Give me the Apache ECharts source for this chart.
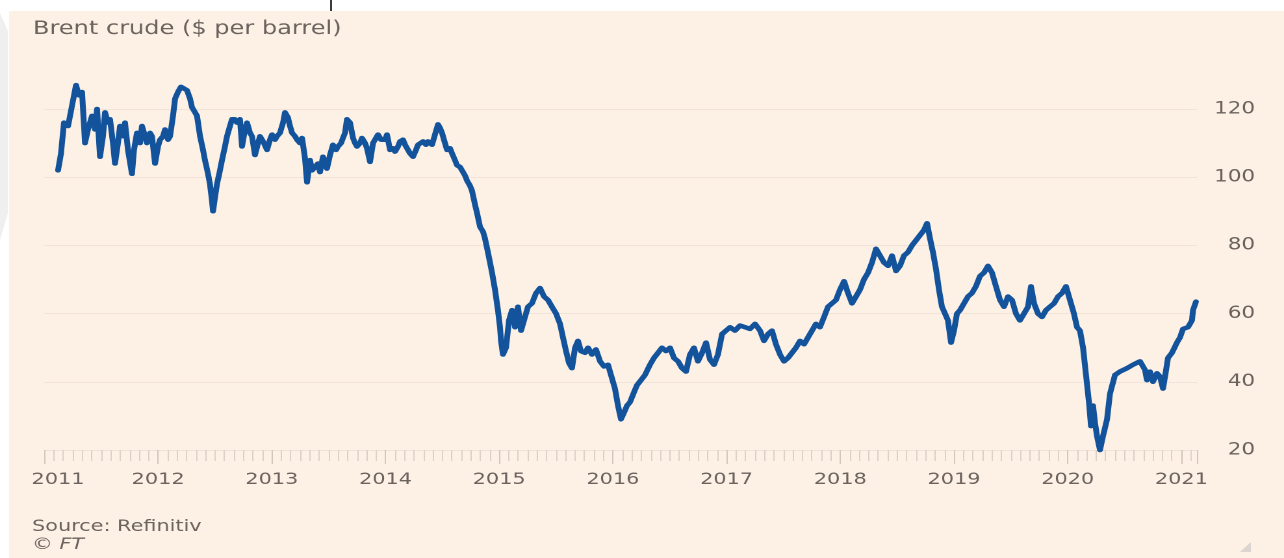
<!DOCTYPE html>
<html>
<head>
<meta charset="utf-8">
<title>Brent crude</title>
<script src="https://cdn.jsdelivr.net/npm/echarts@6/dist/echarts.min.js"></script>
<style>
  html, body { margin: 0; padding: 0; width: 1284px; height: 558px; overflow: hidden; background: #ffffff; }
  #panel { position: absolute; left: 9px; top: 11px; right: 0; bottom: 0; background: #fdf0e5; }
  #edge { position: absolute; left: 0; top: 13px; width: 8px; height: 227px; background: #efefef;
          clip-path: polygon(0 0, 100% 8%, 100% 88%, 0 100%); }
  #mark { position: absolute; left: 330px; top: 0; width: 2px; height: 11px; background: #3c3c3c; }
  #logo { position: absolute; left: 1240px; top: 542px; width: 11px; height: 10px; background: #dcd5cf;
          clip-path: polygon(100% 0, 100% 100%, 0 100%); }
  /* the chart is laid out on a narrower canvas and widened to the page */
  #chart { position: absolute; left: 0; top: 0; width: 988px; height: 558px;
           transform: scaleX(1.29960); transform-origin: 0 0; }
</style>
</head>
<body>
<div id="panel"></div>
<div id="edge"></div>
<div id="mark"></div>
<div id="logo"></div>
<div id="chart"></div>
<script>
// Week positions as decimal years
const weekYear = [
  2011.120, 2011.146, 2011.172, 2011.208, 2011.243, 2011.278, 2011.304, 2011.331, 2011.357, 2011.383,
  2011.419, 2011.445, 2011.463, 2011.489, 2011.515, 2011.533, 2011.559, 2011.577, 2011.603, 2011.621,
  2011.647, 2011.665, 2011.691, 2011.709, 2011.735, 2011.770, 2011.788, 2011.814, 2011.841, 2011.858,
  2011.885, 2011.902, 2011.929, 2011.946, 2011.973, 2011.999, 2012.017, 2012.043, 2012.061, 2012.087,
  2012.105, 2012.131, 2012.149, 2012.175, 2012.201, 2012.228, 2012.254, 2012.281, 2012.298, 2012.325,
  2012.342, 2012.369, 2012.395, 2012.412, 2012.439, 2012.456, 2012.474, 2012.483, 2012.500, 2012.518,
  2012.544, 2012.562, 2012.588, 2012.606, 2012.632, 2012.650, 2012.676, 2012.694, 2012.720, 2012.738,
  2012.764, 2012.782, 2012.808, 2012.826, 2012.852, 2012.879, 2012.896, 2012.931, 2012.958, 2012.984,
  2013.002, 2013.028, 2013.046, 2013.072, 2013.099, 2013.116, 2013.142, 2013.160, 2013.178, 2013.204,
  2013.222, 2013.248, 2013.266, 2013.292, 2013.310, 2013.336, 2013.354, 2013.380, 2013.406, 2013.424,
  2013.450, 2013.485, 2013.512, 2013.538, 2013.565, 2013.582, 2013.609, 2013.626, 2013.644, 2013.661,
  2013.688, 2013.714, 2013.732, 2013.749, 2013.776, 2013.793, 2013.820, 2013.837, 2013.864, 2013.890,
  2013.908, 2013.934, 2013.960, 2013.978, 2013.996, 2014.013, 2014.040, 2014.066, 2014.084, 2014.110,
  2014.128, 2014.154, 2014.172, 2014.198, 2014.215, 2014.242, 2014.268, 2014.286, 2014.303, 2014.330,
  2014.356, 2014.374, 2014.409, 2014.435, 2014.462, 2014.479, 2014.497, 2014.523, 2014.541, 2014.567,
  2014.585, 2014.611, 2014.629, 2014.655, 2014.673, 2014.699, 2014.717, 2014.743, 2014.761, 2014.787,
  2014.805, 2014.831, 2014.858, 2014.875, 2014.901, 2014.919, 2014.937, 2014.963, 2014.989, 2015.007,
  2015.016, 2015.033, 2015.060, 2015.086, 2015.113, 2015.139, 2015.165, 2015.192, 2015.218, 2015.253,
  2015.288, 2015.324, 2015.359, 2015.394, 2015.429, 2015.464, 2015.500, 2015.535, 2015.561, 2015.588,
  2015.614, 2015.640, 2015.667, 2015.693, 2015.719, 2015.755, 2015.781, 2015.816, 2015.851, 2015.887,
  2015.922, 2015.957, 2015.992, 2016.018, 2016.045, 2016.071, 2016.098, 2016.124, 2016.150, 2016.186,
  2016.212, 2016.247, 2016.282, 2016.326, 2016.361, 2016.397, 2016.432, 2016.467, 2016.502, 2016.537,
  2016.573, 2016.608, 2016.643, 2016.678, 2016.713, 2016.748, 2016.784, 2016.819, 2016.854, 2016.889,
  2016.924, 2016.960, 2016.995, 2017.030, 2017.074, 2017.118, 2017.162, 2017.206, 2017.250, 2017.294,
  2017.329, 2017.364, 2017.399, 2017.434, 2017.470, 2017.505, 2017.540, 2017.575, 2017.610, 2017.646,
  2017.681, 2017.716, 2017.751, 2017.786, 2017.821, 2017.857, 2017.892, 2017.927, 2017.962, 2017.997,
  2018.033, 2018.068, 2018.103, 2018.138, 2018.173, 2018.208, 2018.244, 2018.279, 2018.314, 2018.349,
  2018.384, 2018.420, 2018.455, 2018.490, 2018.525, 2018.560, 2018.595, 2018.631, 2018.666, 2018.701,
  2018.736, 2018.763, 2018.789, 2018.815, 2018.842, 2018.868, 2018.894, 2018.921, 2018.947, 2018.974,
  2019.000, 2019.026, 2019.053, 2019.088, 2019.123, 2019.158, 2019.193, 2019.229, 2019.264, 2019.299,
  2019.334, 2019.369, 2019.405, 2019.440, 2019.475, 2019.510, 2019.545, 2019.580, 2019.616, 2019.651,
  2019.677, 2019.704, 2019.739, 2019.774, 2019.809, 2019.844, 2019.880, 2019.915, 2019.950, 2019.985,
  2020.020, 2020.055, 2020.082, 2020.108, 2020.135, 2020.161, 2020.187, 2020.205, 2020.223, 2020.240,
  2020.258, 2020.284, 2020.310, 2020.346, 2020.372, 2020.416, 2020.460, 2020.522, 2020.574, 2020.636,
  2020.680, 2020.697, 2020.724, 2020.750, 2020.785, 2020.812, 2020.838, 2020.856, 2020.882, 2020.917,
  2020.961, 2020.988, 2021.014, 2021.058, 2021.093, 2021.102, 2021.128
];

// Brent crude, $ per barrel
const brentUsd = [
  102, 107, 116, 115, 121, 127, 124, 125, 110, 114,
  118, 114, 120, 106, 112, 119, 116, 117, 110, 104,
  110, 115, 112, 116, 108, 101, 108, 113, 110, 115,
  112, 110, 113, 112, 104, 109, 111, 112, 114, 111,
  112, 118, 123, 125, 126.5, 126, 125.5, 123, 120.5, 119,
  118, 112, 108, 105, 101, 98, 93, 90, 94, 98,
  102, 105, 109, 112, 115, 117, 117, 116, 117, 109,
  114, 116, 113, 112, 106.5, 110, 112, 110, 108, 111,
  112.5, 111, 112, 113, 116, 119, 117.5, 115, 113, 112,
  111, 110, 111.5, 105.5, 98.5, 105, 102, 103, 104, 101.5,
  106, 102.5, 106.5, 109.5, 108, 109, 110, 111.5, 113, 117,
  116, 111.5, 110, 109, 110, 111.5, 110, 108.5, 104.5, 110,
  111, 112.5, 111, 110.5, 111, 112.5, 108, 108.5, 107.5, 109,
  110.5, 111, 109.5, 108, 107, 106, 108, 109.5, 110, 110.5,
  109.5, 110.5, 109.5, 112.5, 115.5, 114.5, 113, 110, 108, 108.5,
  107, 105, 103.5, 103, 102.5, 100.5, 99, 97.5, 96, 92,
  89.5, 85.5, 84, 82, 78, 75, 72, 67, 61, 56,
  52, 48, 50, 58, 61, 56, 62, 55, 58, 62,
  63, 66, 67.5, 65, 64, 62, 60, 57, 53, 49,
  45.5, 44, 50, 52, 49, 48.5, 50, 48, 49.5, 46,
  44.5, 45, 41, 38, 33, 29, 31, 33, 34, 37,
  39, 40.5, 42, 45, 47, 48.5, 50, 49, 50, 47,
  46, 44, 43, 48, 50, 46, 48.5, 51.5, 46.5, 45,
  48, 54, 55, 56, 55, 56.5, 56, 55.5, 57, 55,
  52, 54, 55, 51, 48, 46, 47, 48.5, 50, 52,
  51, 53, 55, 57, 56, 59, 62, 63, 64, 67,
  69.5, 66, 63, 65, 67, 70, 72, 75, 79, 77,
  75, 74, 77, 72.5, 74, 77, 78, 80, 81.5, 83,
  84.5, 86.5, 82, 78, 73, 67, 62, 60, 58, 51.5,
  55, 60, 61, 63, 65, 66, 68, 71, 72, 74,
  72, 68, 64, 62, 65, 64, 60, 58, 60, 62,
  68, 63, 60, 59, 61, 62, 63, 65, 66, 68,
  64, 60, 56, 55, 50, 42, 34, 27, 33, 28,
  24, 20, 24, 29, 36.5, 42, 43, 44, 45, 46,
  43.5, 40.5, 43, 40, 42.5, 41.5, 38, 41.5, 47, 48.5,
  51.5, 53, 55.5, 56, 58, 61, 63.5
];

// Axis scales
const yearTicks = { min: 2011, max: 2021.14 };
const priceTicks = { min: 20, max: 120, step: 20 };

const STRETCH = 1284 / 988;            // page width / canvas width
const px = v => v / STRETCH;            // page x → canvas x
const FONT = "'DejaVu Sans', 'Verdana', sans-serif";
const INK = '#6b635e';
const LINE_BLUE = '#13539c';

const chart = echarts.init(document.getElementById('chart'), null, {
  renderer: 'canvas', devicePixelRatio: 2
});

const gridLeft = px(44.4);
const gridRight = 988 - px(1197.3);

const option = {
  animation: false,
  backgroundColor: 'transparent',
  grid: { left: gridLeft, right: gridRight, top: 109, bottom: 108, containLabel: false },
  xAxis: [
    {
      // monthly ticks
      type: 'value', min: yearTicks.min, max: yearTicks.max, interval: 1 / 12,
      axisLine: { show: true, lineStyle: { color: '#eee1d6', width: 1 } },
      axisTick: { show: true, length: 11, lineStyle: { color: '#ddd1c7', width: 1 } },
      axisLabel: { show: false },
      splitLine: { show: false }
    },
    {
      // year ticks and labels
      type: 'value', position: 'bottom', min: yearTicks.min, max: yearTicks.max, interval: 1,
      axisLine: { show: false },
      axisTick: { show: true, length: 14, lineStyle: { color: '#d3c6bc', width: 1 } },
      splitLine: { show: false },
      axisLabel: {
        show: true, interval: 0, margin: 22,
        color: INK, fontFamily: FONT, fontSize: 16,
        formatter: v => {
          if (Math.abs(v - Math.round(v)) > 1e-6) return '';
          const y = String(Math.round(v));
          return Math.round(v) === yearTicks.min ? '{first|' + y + '}' : y;
        },
        rich: {
          first: { color: INK, fontFamily: FONT, fontSize: 16, padding: [0, 0, 0, 21] }
        }
      }
    }
  ],
  yAxis: {
    type: 'value', position: 'right',
    min: priceTicks.min, max: priceTicks.max, interval: priceTicks.step,
    axisLine: { show: false },
    axisTick: { show: false },
    splitLine: { show: true, lineStyle: { color: '#f1e3d7', width: 1 } },
    axisLabel: {
      align: 'right', margin: px(1255) - px(1197.3),
      color: INK, fontFamily: FONT, fontSize: 16.5
    }
  },
  graphic: [
    {
      type: 'text', x: px(33), y: 29, z: 10,
      style: { text: 'Brent crude ($ per barrel)', font: '18.5px ' + FONT, fill: INK,
               verticalAlign: 'middle', textVerticalAlign: 'middle' }
    },
    {
      type: 'text', x: px(32), y: 527, z: 10,
      style: { text: 'Source: Refinitiv', font: '16px ' + FONT, fill: INK,
               verticalAlign: 'middle', textVerticalAlign: 'middle' }
    },
    {
      type: 'text', x: px(32), y: 545, z: 10,
      style: { text: '\u00A9 FT', font: 'italic 16px ' + FONT, fill: INK,
               verticalAlign: 'middle', textVerticalAlign: 'middle' }
    }
  ],
  series: [
    {
      type: 'line',
      xAxisIndex: 0,
      data: weekYear.map((t, i) => [t, brentUsd[i]]),
      showSymbol: false,
      clip: false,
      lineStyle: { color: LINE_BLUE, width: 4.5, join: 'round', cap: 'round' },
      z: 5
    }
  ]
};

chart.setOption(option);
</script>
</body>
</html>
